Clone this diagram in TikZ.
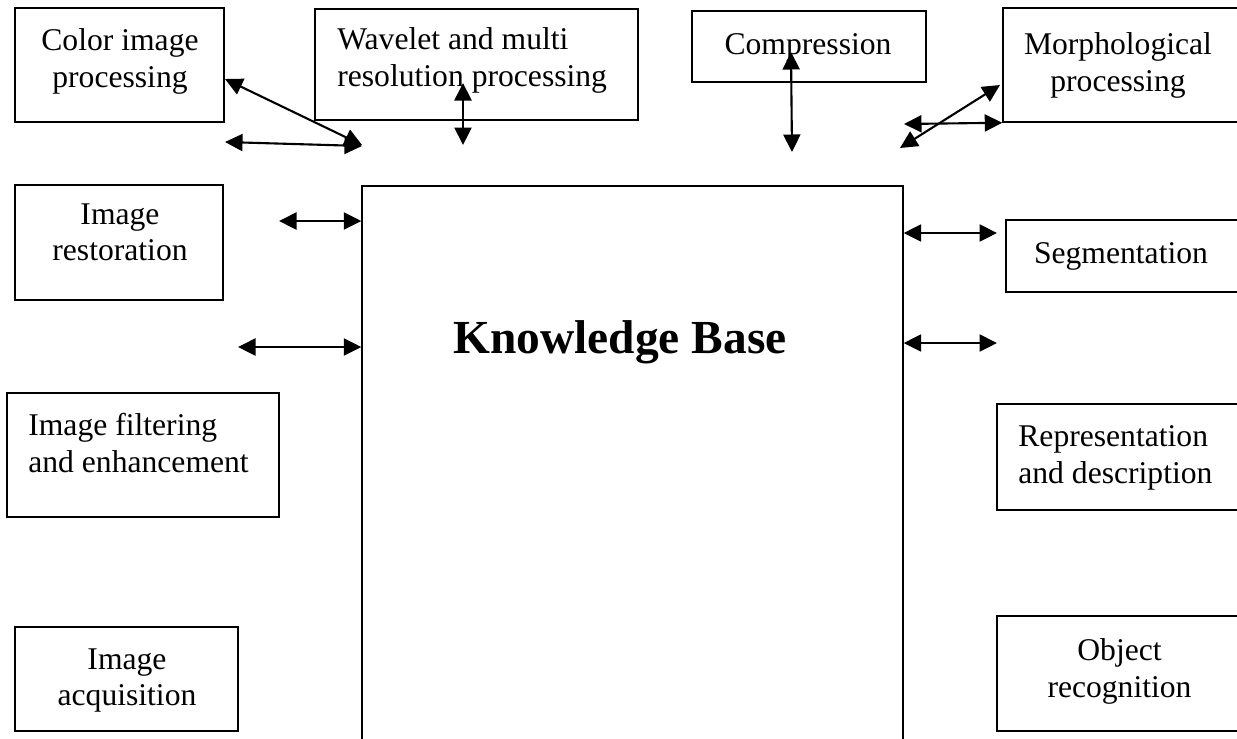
\documentclass[tikz,border=0pt]{standalone}
\usepackage{fontspec}
\setmainfont{Liberation Serif}
\usetikzlibrary{arrows.meta,positioning}
\tikzset{
  blk/.style={rectangle,draw,line width=0.85pt,inner sep=0pt},
  txt/.style={inner sep=0pt,align=center,anchor=north,
    font=\fontsize{18}{21}\selectfont},
  txtl/.style={txt,align=left,anchor=north west},
  arr/.style={{Triangle[length=3.5mm,width=3.4mm]}-{Triangle[length=3.5mm,width=3.4mm]},
    line width=1.2pt}
}
\begin{document}
\begin{tikzpicture}[x=0.02cm,y=-0.02cm]
  \clip (0,0) rectangle (1237,738);
  % boxes (positions in pixels of the sketch)
  \node[blk,minimum width=4.18cm,minimum height=2.28cm] (color) at (119.5,65) {};
  \node[blk,minimum width=6.46cm,minimum height=2.22cm] (wave) at (476.5,64.5) {};
  \node[blk,minimum width=4.68cm,minimum height=1.42cm] (comp) at (809,46.5) {};
  \node[blk,minimum width=4.74cm,minimum height=2.28cm] (morph) at (1121.5,65) {};
  \node[blk,minimum width=4.16cm,minimum height=2.30cm] (rest) at (119,242.5) {};
  \node[blk,minimum width=4.78cm,minimum height=1.44cm] (seg) at (1125.5,256) {};
  \node[blk,minimum width=5.44cm,minimum height=2.48cm] (filt) at (143,455) {};
  \node[blk,minimum width=4.96cm,minimum height=2.12cm] (repr) at (1121,457) {};
  \node[blk,minimum width=4.46cm,minimum height=2.08cm] (acq) at (126.5,679) {};
  \node[blk,minimum width=4.96cm,minimum height=2.30cm] (obj) at (1121,673.5) {};
  \node[blk,minimum width=10.82cm,minimum height=11.28cm] (kb) at (632.5,468) {};

  \node[txt] (colort) at (120,28) {Color image\\processing};
  \node[txtl] (wavet) at (337,27) {Wavelet and multi\\resolution processing};
  \node[txt] (compt) at (808,33) {Compression};
  \node[txt] (morpht) at (1118,32) {Morphological\\processing};
  \node[txt] (restt) at (120,203) {Image\\restoration};
  \node[txt] (segt) at (1121,242) {Segmentation};
  \node[txtl] (filtt) at (28,413) {Image filtering\\and enhancement};
  \node[txtl] (reprt) at (1018,425) {Representation\\and description};
  \node[txt] (acqt) at (127,648) {Image\\acquisition};
  \node[txt] (objt) at (1119.5,638) {Object\\recognition};
  \node[txt,font=\fontsize{27}{32}\bfseries] (kbt) at (620,320) {Knowledge Base};

  % free arrow ends
  \coordinate (c1) at (225,79);   \coordinate (c2) at (362,145);
  \coordinate (c3) at (225,142);  \coordinate (c4) at (362,146);
  \coordinate (w1) at (463,83);   \coordinate (w2) at (463,145);
  \coordinate (p1) at (791,52);   \coordinate (p2) at (792,152);
  \coordinate (m1) at (1000,85);  \coordinate (m2) at (900,148);
  \coordinate (m3) at (904,124);
  \coordinate (l1) at (279,221);  \coordinate (l2) at (238,347);
  \coordinate (r1) at (997,233);  \coordinate (r2) at (997,343);

  \foreach \a/\b in {c1/c2,c3/c4,w1/w2,p1/p2,m1/m2,m3/morph.south west}
    \draw[arr] (\a) -- (\b);
  \foreach \a in {l1,l2}
    \draw[arr] (\a) -- (kb.west |- \a);
  \foreach \b in {r1,r2}
    \draw[arr] (kb.east |- \b) -- (\b);
\end{tikzpicture}
\end{document}
